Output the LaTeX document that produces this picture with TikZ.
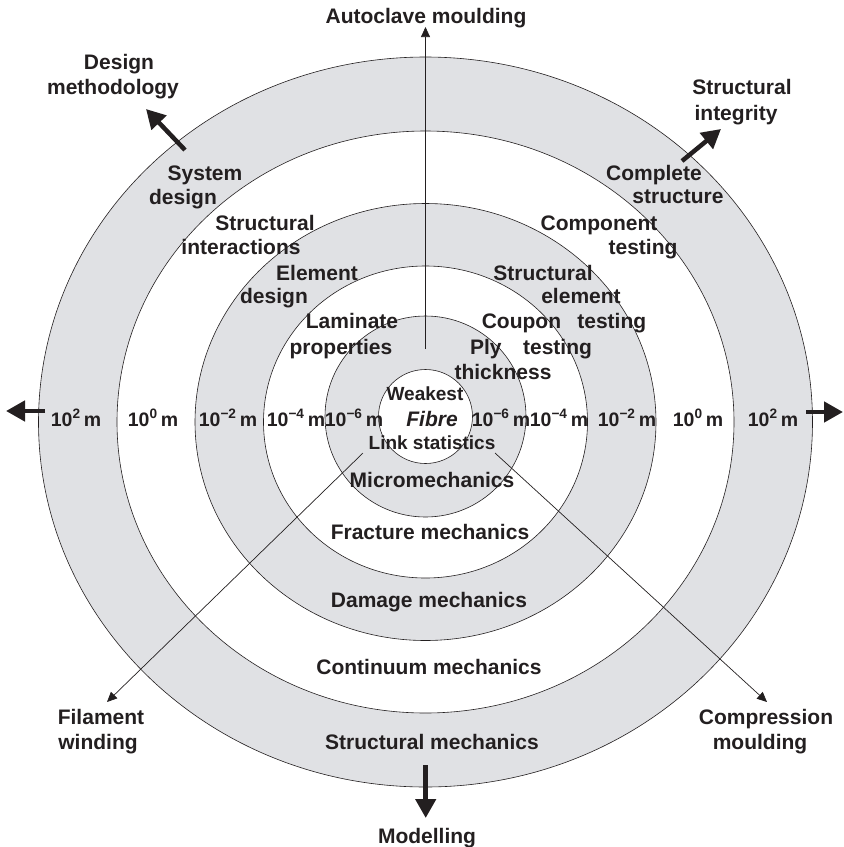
\documentclass[tikz,border=0pt]{standalone}
\usepackage{fontspec}
\setmainfont{Liberation Sans}
\usetikzlibrary{arrows.meta}
\definecolor{ring}{RGB}{224,225,228}
\definecolor{ink}{RGB}{35,31,32}

\begin{document}
\begin{tikzpicture}[x=1pt,y=-1pt,
  lbl/.style={anchor=base,inner sep=0pt,text=ink,font=\bfseries\fontsize{21}{25}\selectfont},
  smalllbl/.style={lbl,font=\bfseries\fontsize{19}{23}\selectfont},
  unitlbl/.style={lbl,font=\bfseries\fontsize{19.5}{23}\selectfont},
  thinarrow/.style={draw=ink,line width=0.7pt,-{Triangle[length=10pt,width=9pt]}},
  thickarrow/.style={draw=ink,line width=4.5pt,-{Triangle[length=19pt,width=20pt]}},
  ringline/.style={draw=ink,line width=0.6pt}]

\useasboundingbox (0,0) rectangle (844,847);

% centres of the scale rings
\coordinate (c) at (425.5,422);
\coordinate (ci) at (425.5,416.5);

% alternating grey / white rings, outermost first
\fill[ring]  (c) ellipse [x radius=387pt, y radius=365pt];
\fill[white] (c) ellipse [x radius=308.5pt, y radius=291pt];
\fill[ring]  (c) ellipse [x radius=230.5pt, y radius=218.5pt];
\fill[white] (c) ellipse [x radius=162pt, y radius=156pt];
\fill[ring]  (ci) circle [radius=100.5pt];
\fill[white] (ci) circle [radius=47pt];

\draw[ringline] (c) ellipse [x radius=387pt, y radius=365pt];
\draw[ringline] (c) ellipse [x radius=308.5pt, y radius=291pt];
\draw[ringline] (c) ellipse [x radius=230.5pt, y radius=218.5pt];
\draw[ringline] (c) ellipse [x radius=162pt, y radius=156pt];
\draw[ringline] (ci) circle [radius=100.5pt];
\draw[ringline] (ci) circle [radius=47pt];

% manufacturing routes (thin arrows)
\coordinate (autoS) at (425.5,349);
\coordinate (autoE) at (425.5,27);
\coordinate (filS) at (363,453);
\coordinate (filE) at (107,702);
\coordinate (comS) at (495,453);
\coordinate (comE) at (767,702);
\draw[thinarrow] (autoS) -- (autoE);
\draw[thinarrow] (filS) -- (filE);
\draw[thinarrow] (comS) -- (comE);

% main directions (thick arrows)
\coordinate (leftS) at (45,411);
\coordinate (leftE) at (6,411);
\coordinate (rightS) at (806,412);
\coordinate (rightE) at (843,412);
\coordinate (modS) at (425.7,765);
\coordinate (modE) at (425.7,818);
\coordinate (desS) at (185,150);
\coordinate (desE) at (146,109);
\coordinate (intS) at (682,161);
\coordinate (intE) at (721,129);
\draw[thickarrow] (leftS) -- (leftE);
\draw[thickarrow] (rightS) -- (rightE);
\draw[thickarrow] (modS) -- (modE);
\draw[thickarrow] (desS) -- (desE);
\draw[thickarrow] (intS) -- (intE);

% outer labels
\node[lbl] (auto) at (426,23) {Autoclave moulding};
\node[lbl] (des1) at (119,69) {Design};
\node[lbl] (des2) at (113,94) {methodology};
\node[lbl] (int1) at (742,94) {Structural};
\node[lbl] (int2) at (736,120) {integrity};
\node[lbl] (fil1) at (101,724) {Filament};
\node[lbl] (fil2) at (98,749) {winding};
\node[lbl] (com1) at (766,724) {Compression};
\node[lbl] (com2) at (760,749) {moulding};
\node[lbl] (mod) at (427,843) {Modelling};

% design side (upper left)
\node[lbl] (sys1) at (205,180) {System};
\node[lbl] (sys2) at (183,204) {design};
\node[lbl] (sti1) at (265,230) {Structural};
\node[lbl] (sti2) at (241,254) {interactions};
\node[lbl] (ele1) at (317,280) {Element};
\node[lbl] (ele2) at (274,303) {design};
\node[lbl] (lam1) at (352,328) {Laminate};
\node[lbl] (lam2) at (341,354) {properties};

% testing side (upper right)
\node[lbl] (cst1) at (654,180) {Complete};
\node[lbl] (cst2) at (678,203) {structure};
\node[lbl] (cmp1) at (599,230) {Component};
\node[lbl] (cmp2) at (643,254) {testing};
\node[lbl] (sel1) at (543,280) {Structural};
\node[lbl] (sel2) at (581,303) {element};
\node[lbl] (cou) at (564,328) {Coupon\hspace{0.5em} testing};
\node[lbl] (ply) at (531,354) {Ply\hspace{0.75em} testing};
\node[lbl] (thk) at (503,379) {thickness};

% centre
\node[smalllbl] (wk) at (425,400) {Weakest};
\node[lbl,font=\bfseries\itshape\fontsize{21}{25}\selectfont] (fib) at (432,426) {Fibre};
\node[smalllbl] (lnk) at (432,449) {Link statistics};

% length scales
\node[unitlbl] (l2) at (76,426) {10\textsuperscript{2}\,m};
\node[unitlbl] (l0) at (153,426) {10\textsuperscript{0}\,m};
\node[unitlbl] (lm2) at (228,426) {10\textsuperscript{−2}\,m};
\node[unitlbl] (lm4) at (296,426) {10\textsuperscript{−4}\,m};
\node[unitlbl] (lm6) at (354,426) {10\textsuperscript{−6}\,m};
\node[unitlbl] (rm6) at (501,426) {10\textsuperscript{−6}\,m};
\node[unitlbl] (rm4) at (559,426) {10\textsuperscript{−4}\,m};
\node[unitlbl] (rm2) at (627,426) {10\textsuperscript{−2}\,m};
\node[unitlbl] (r0) at (698,426) {10\textsuperscript{0}\,m};
\node[unitlbl] (r2) at (773,426) {10\textsuperscript{2}\,m};

% modelling side (lower half)
\node[lbl] (mic) at (432,487) {Micromechanics};
\node[lbl] (frc) at (430,539) {Fracture mechanics};
\node[lbl] (dam) at (429,607) {Damage mechanics};
\node[lbl] (con) at (429,674) {Continuum mechanics};
\node[lbl] (stm) at (432,749) {Structural mechanics};

\end{tikzpicture}
\end{document}
